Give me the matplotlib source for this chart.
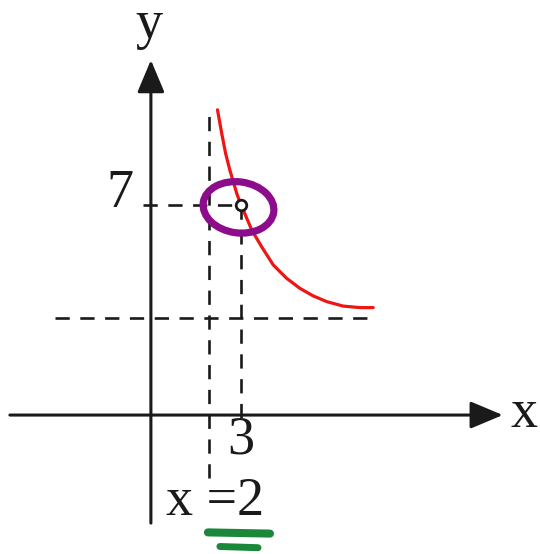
import matplotlib
matplotlib.use("Agg")
import matplotlib.pyplot as plt
from matplotlib.patches import Ellipse

# ---------------------------------------------------------------
# data (units: 1 unit = 30 px)
# ---------------------------------------------------------------
curve_x = [2.22, 2.36, 2.49, 2.63, 2.86, 3.0, 3.08, 3.36, 3.69, 4.08,
           4.52, 4.97, 5.41, 5.86, 6.41, 6.97, 7.41]
curve_y = [10.17, 9.39, 8.72, 8.17, 7.39, 7.0, 6.83, 6.17, 5.61, 5.0,
           4.56, 4.22, 3.97, 3.78, 3.63, 3.58, 3.58]

point_x, point_y = 3, 7          # open circle
vert_asym = 1.95                 # x = 2 dashed line
horiz_asym = 3.23                # horizontal dashed line

x_tick_label = "3"
y_tick_label = "7"
asym_label = "x =2"

# ---------------------------------------------------------------
fig = plt.figure(figsize=(5.4, 5.54), dpi=100)
ax = fig.add_axes([0, 0, 1, 1])
ax.set_xlim(-5.03, 12.97)
ax.set_ylim(-4.63, 13.83)
ax.axis("off")

ink = "#1a1a1a"
dash = (0, (5.4, 4.0))
dlw = 1.9

# axes with arrow heads
arrow = dict(arrowstyle="-|>,head_length=1.0,head_width=0.42",
             mutation_scale=20, lw=2.2, color=ink, shrinkA=0, shrinkB=0)
ax.annotate("", xy=(11.73, 0), xytext=(-4.7, 0), arrowprops=arrow)
ax.annotate("", xy=(0, 11.83), xytext=(0, -3.6), arrowprops=arrow)

# dashed guide lines
ax.plot([vert_asym, vert_asym], [-2.1, 10.1], ls=dash, lw=dlw, color=ink)
ax.plot([-3.2, 7.47], [horiz_asym, horiz_asym], ls=dash, lw=dlw, color=ink)
ax.plot([-0.27, point_x], [point_y, point_y], ls=dash, lw=dlw, color=ink)
ax.plot([point_x, point_x], [point_y, -0.1], ls=dash, lw=dlw, color=ink)

# the curve
ax.plot(curve_x, curve_y, color="#ee1515", lw=2.3, solid_capstyle="round",
        solid_joinstyle="round")

# open point
ax.plot(point_x, point_y, "o", ms=7.6, mfc="white", mec=ink, mew=2.0, zorder=6)

# hand-drawn purple ring
ax.add_patch(Ellipse((2.92, 6.92), 2.37, 1.7, angle=-8, fill=False,
                     ec="#8c0c8c", lw=5.2, zorder=5))

# green underline strokes
ax.plot([1.9, 3.97], [-3.91, -3.95], color="#1b873a", lw=5.8,
        solid_capstyle="round", zorder=5)
ax.plot([2.3, 3.57], [-4.38, -4.42], color="#1b873a", lw=5.0,
        solid_capstyle="round", zorder=5)

# text
font = dict(family="Liberation Serif", size=39, color=ink)
ax.text(-0.07, 12.55, "y", ha="center", va="baseline", **font)
ax.text(12.45, -0.4, "x", ha="center", va="baseline", **font)
ax.text(-1.05, 6.93, y_tick_label, ha="center", va="baseline", **font)
ax.text(3.0, -1.27, x_tick_label, ha="center", va="baseline", **font)
ax.text(2.13, -3.33, asym_label, ha="center", va="baseline", **font)

fig.savefig("out.png", dpi=100)
